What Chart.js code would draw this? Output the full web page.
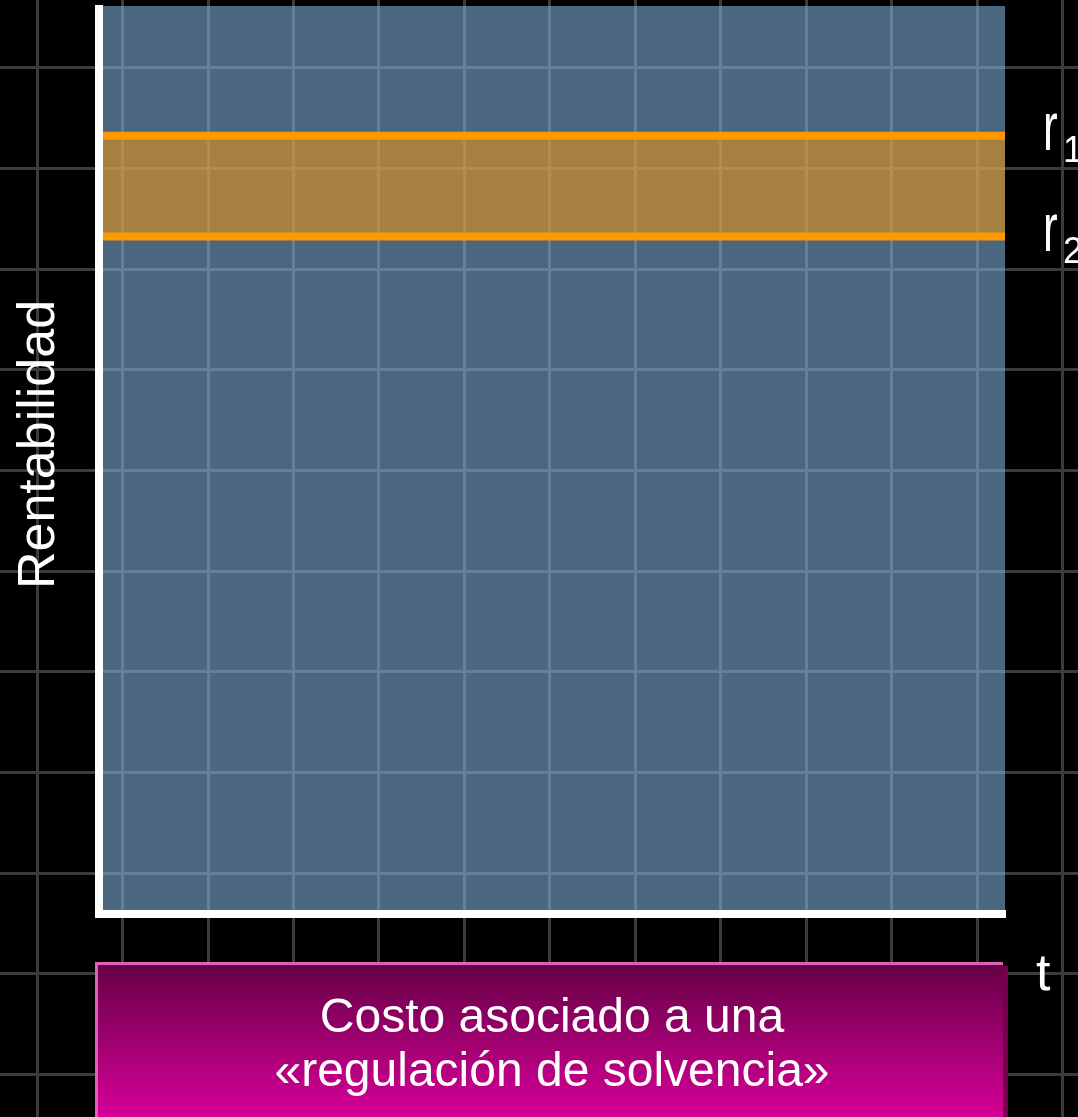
<!DOCTYPE html>
<html lang="es">
<head>
<meta charset="utf-8">
<title>Rentabilidad y regulación de solvencia</title>
<script src="https://cdn.jsdelivr.net/npm/chart.js@4.4.1/dist/chart.umd.min.js"></script>
<style>
    html, body { margin: 0; padding: 0; background: #000; }
    #wrap { position: relative; width: 1078px; height: 1117px; overflow: hidden; }
</style>
</head>
<body>
<div id="wrap"><canvas id="solvenciaChart"></canvas></div>
<script>
// Horizonte de tiempo (eje t) y niveles de rentabilidad r1 / r2
const tiempo = [-0.27, 10.33];
const rentabilidadR1 = [7.32, 7.32];
const rentabilidadR2 = [6.32, 6.32];
const rangoRentabilidad = [-0.41, 8.58];
const subindices = ['1', '2'];
const tituloEjeY = 'Rentabilidad';
const textoCosto = ['Costo asociado a una', '«regulación de solvencia»'];

const FONT = "'Liberation Sans', Arial, sans-serif";

// Page grid behind everything, plus the translucent panel over the plot area
const fondoCuadriculado = {
    id: 'fondoCuadriculado',
    beforeDraw(chart) {
        const { ctx, width, height, chartArea: area, scales: { x, y } } = chart;
        ctx.save();
        ctx.fillStyle = '#000';
        ctx.fillRect(0, 0, width, height);

        ctx.strokeStyle = '#3c3c3c';
        ctx.lineWidth = 3;
        ctx.beginPath();
        for (let k = Math.floor(x.getValueForPixel(0)); k <= Math.ceil(x.getValueForPixel(width)); k++) {
            const px = Math.round(x.getPixelForValue(k)) + 0.5;
            ctx.moveTo(px, 0);
            ctx.lineTo(px, height);
        }
        for (let k = Math.floor(y.getValueForPixel(height)); k <= Math.ceil(y.getValueForPixel(0)); k++) {
            const py = Math.round(y.getPixelForValue(k)) + 0.5;
            ctx.moveTo(0, py);
            ctx.lineTo(width, py);
        }
        ctx.stroke();

        ctx.fillStyle = 'rgba(129, 178, 221, 0.58)';
        ctx.fillRect(area.left, area.top - 3, area.right - area.left, area.bottom - area.top + 3);
        ctx.restore();
    }
};

// Axis title, r1 / r2 and t labels, and the cost box under the time axis
const rotulos = {
    id: 'rotulos',
    afterDraw(chart) {
        const { ctx, height, chartArea: area, scales: { y } } = chart;
        ctx.save();
        ctx.fillStyle = '#fff';

        // vertical axis title
        ctx.save();
        ctx.translate(area.left - 59, (area.top + area.bottom) / 2 - 17);
        ctx.rotate(-Math.PI / 2);
        ctx.font = `52px ${FONT}`;
        ctx.textAlign = 'center';
        ctx.textBaseline = 'middle';
        ctx.fillText(tituloEjeY, 0, 0);
        ctx.restore();

        ctx.textAlign = 'left';
        ctx.textBaseline = 'alphabetic';
        [rentabilidadR1, rentabilidadR2].forEach((serie, i) => {
            const py = y.getPixelForValue(serie[serie.length - 1]);
            const px = area.right + 38;
            ctx.save();
            ctx.translate(px, py + 14);
            ctx.scale(1, 1.55);
            ctx.font = `44px ${FONT}`;
            ctx.fillText('r', 0, 0);
            ctx.restore();
            ctx.font = `36px ${FONT}`;
            ctx.fillText(subindices[i], px + 20, py + 26);
        });

        ctx.font = `52px ${FONT}`;
        ctx.fillText('t', area.right + 31, area.bottom + 76);

        // Cost box
        const left = area.left - 4;
        const right = area.right - 2;
        const top = area.bottom + 48;
        const bottom = height + 4;
        ctx.fillStyle = '#74004c';
        ctx.fillRect(left + 5, top + 4, right - left, bottom - top);
        const grad = ctx.createLinearGradient(0, top, 0, height);
        grad.addColorStop(0, '#640044');
        grad.addColorStop(1, '#d70098');
        ctx.fillStyle = grad;
        ctx.fillRect(left, top, right - left, bottom - top);
        ctx.strokeStyle = '#e060b8';
        ctx.lineWidth = 3;
        ctx.beginPath();
        ctx.moveTo(left + 1.5, bottom);
        ctx.lineTo(left + 1.5, top + 1.5);
        ctx.lineTo(right, top + 1.5);
        ctx.stroke();

        ctx.fillStyle = '#fff';
        ctx.font = `48px ${FONT}`;
        ctx.textAlign = 'center';
        const cx = (area.left + area.right) / 2;
        ctx.fillText(textoCosto[0], cx, top + 70);
        ctx.fillText(textoCosto[1], cx, top + 124);
        ctx.restore();
    }
};

const ejeOculto = {
    grid: { display: false, drawTicks: false },
    ticks: { display: false },
    border: { display: true, color: '#fff', width: 8, z: 1 }
};

new Chart(document.getElementById('solvenciaChart').getContext('2d'), {
    type: 'line',
    data: {
        datasets: [
            {
                label: 'r1',
                data: tiempo.map((t, i) => ({ x: t, y: rentabilidadR1[i] })),
                borderColor: '#ff9900',
                borderWidth: 8,
                pointRadius: 0,
                fill: false
            },
            {
                label: 'r2',
                data: tiempo.map((t, i) => ({ x: t, y: rentabilidadR2[i] })),
                borderColor: '#ff9900',
                borderWidth: 8,
                pointRadius: 0,
                fill: '-1',
                backgroundColor: 'rgba(255, 153, 0, 0.5)'
            }
        ]
    },
    options: {
        responsive: true,
        maintainAspectRatio: false,
        animation: false,
        layout: { padding: { left: 99, top: 9, right: 73, bottom: 203 } },
        plugins: {
            legend: { display: false },
            tooltip: { enabled: false }
        },
        scales: {
            x: {
                type: 'linear',
                min: tiempo[0],
                max: tiempo[tiempo.length - 1],
                ...ejeOculto
            },
            y: {
                type: 'linear',
                min: rangoRentabilidad[0],
                max: rangoRentabilidad[1],
                ...ejeOculto
            }
        }
    },
    plugins: [fondoCuadriculado, rotulos]
});
</script>
</body>
</html>
